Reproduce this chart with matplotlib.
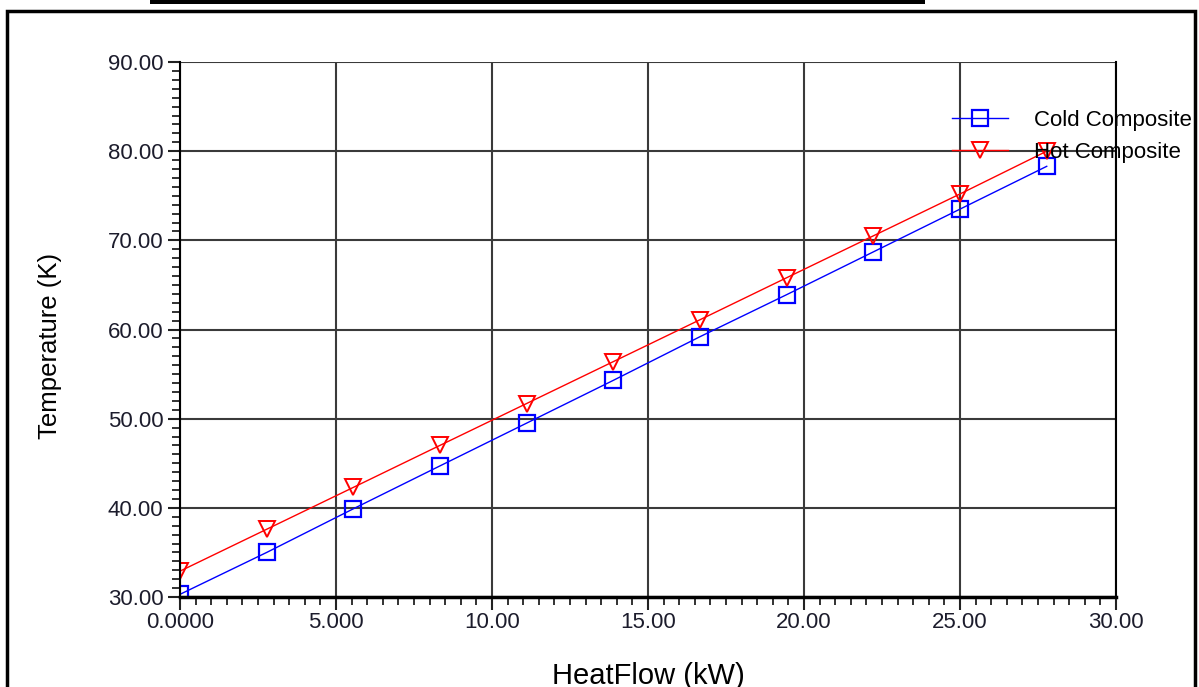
import numpy as np
import matplotlib.pyplot as plt
from matplotlib.patches import Rectangle
from matplotlib.lines import Line2D

# heat flow (kW) at each point
heat_flow = [0.0, 2.78, 5.56, 8.33, 11.11, 13.89, 16.67, 19.44, 22.22, 25.0, 27.78]
cold_temp = [30.3, 35.0, 39.9, 44.7, 49.5, 54.3, 59.2, 63.9, 68.7, 73.5, 78.3]
hot_temp = [32.9, 37.6, 42.3, 47.0, 51.7, 56.4, 61.1, 65.8, 70.5, 75.2, 80.0]

x_ticks = [0, 5, 10, 15, 20, 25, 30]
x_tick_labels = ['0.0000', '5.000', '10.00', '15.00', '20.00', '25.00', '30.00']
y_ticks = [30, 40, 50, 60, 70, 80, 90]
y_tick_labels = ['30.00', '40.00', '50.00', '60.00', '70.00', '80.00', '90.00']

plt.rcParams['font.family'] = ['Liberation Sans', 'DejaVu Sans']

W, H = 1199, 687
fig = plt.figure(figsize=(W / 100, H / 100), dpi=100)
ax = fig.add_axes([180 / W, 1 - 597 / H, (1116 - 180) / W, (597 - 62) / H])

ax.plot(heat_flow, cold_temp, color='blue', lw=1, marker='s', ms=11,
        mfc='none', mec='blue', mew=1.6, label='Cold Composite')
ax.plot(heat_flow, hot_temp, color='red', lw=1, marker='v', ms=11,
        mfc='none', mec='red', mew=1.4, label='Hot Composite')

ax.set_xlim(0, 30)
ax.set_ylim(30, 90)
ax.set_xticks(x_ticks)
ax.set_xticklabels(x_tick_labels)
ax.set_yticks(y_ticks)
ax.set_yticklabels(y_tick_labels)
ax.set_xticks(np.arange(0, 30.01, 0.5), minor=True)
ax.set_yticks(np.arange(30, 90.01, 1), minor=True)

ax.grid(True, which='major', color='#3a3a3a', lw=1.5)
ax.set_axisbelow(True)
ax.tick_params(which='major', direction='out', length=9, width=1.5, color='#222222',
               labelsize=16, labelcolor='#1c1c2c', pad=3)
ax.tick_params(which='minor', direction='out', length=6, width=1.3, color='#222222')
ax.tick_params(axis='x', which='major', pad=2)

ax.spines['top'].set_visible(False)
ax.spines['left'].set_linewidth(1.5)
ax.spines['right'].set_linewidth(1.5)
ax.spines['bottom'].set_linewidth(2.5)

ax.set_xlabel('HeatFlow (kW)', fontsize=21)
ax.xaxis.set_label_coords(0.5, -(662 - 597) / 535)
ax.set_ylabel('Temperature (K)', fontsize=18.5)
ax.yaxis.set_label_coords((62 - 180) / 936, (597 - 346) / 535)

handles = [Line2D([], [], color='blue', lw=1, marker='s', ms=11, mfc='none', mew=1.6),
           Line2D([], [], color='red', lw=1, marker='v', ms=11, mfc='none', mew=1.4)]
fig.legend(handles, ['Cold Composite', 'Hot Composite'], loc='upper left',
           bbox_to_anchor=(932 / W, 1 - 90 / H), frameon=False, fontsize=16,
           handlelength=2.5, handletextpad=1.2, labelspacing=0.5)

# page frame around the chart and the bar above it
fig.patches.append(Rectangle((7 / W, -0.05), (1195 - 7) / W, 1.05 - 11 / H,
                             transform=fig.transFigure, fill=False, ec='black', lw=2.5))
fig.patches.append(Rectangle((150 / W, 1 - 4 / H), (925 - 150) / W, 4 / H,
                             transform=fig.transFigure, fc='black', ec='none'))

fig.savefig('out.png', dpi=100)
